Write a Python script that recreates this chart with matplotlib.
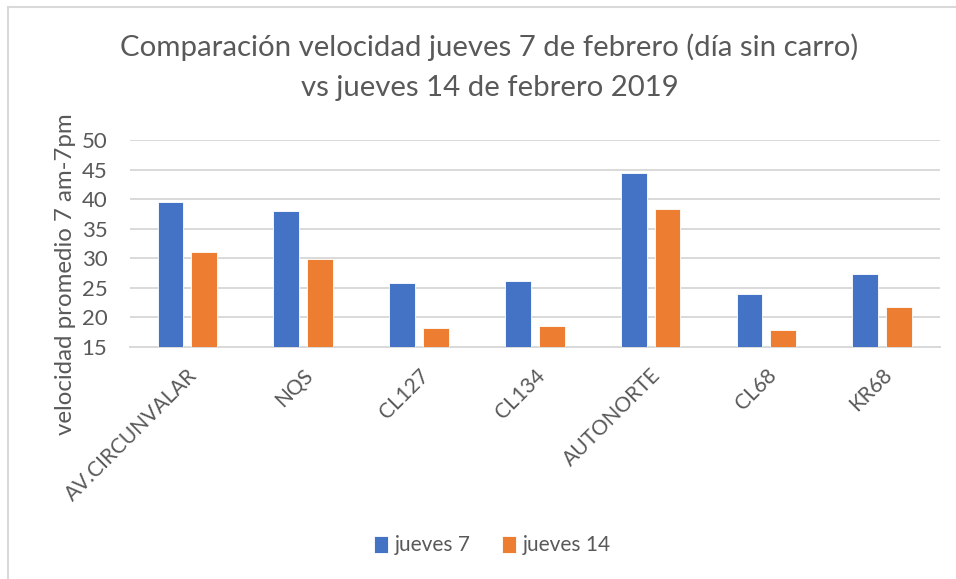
import numpy as np
import matplotlib
matplotlib.use("Agg")
from matplotlib import pyplot as plt
from matplotlib.lines import Line2D

# data
categorias = ["AV.CIRCUNVALAR", "NQS", "CL127", "CL134", "AUTONORTE", "CL68", "KR68"]
jueves7 = [39.6, 38.0, 25.8, 26.2, 44.5, 23.9, 27.3]
jueves14 = [31.0, 29.9, 18.2, 18.6, 38.4, 17.9, 21.7]
series = ["jueves 7", "jueves 14"]
yticks = [15, 20, 25, 30, 35, 40, 45, 50]

plt.rcParams['font.family'] = ['Lato', 'DejaVu Sans']
gris = "#595959"

fig = plt.figure(figsize=(9.56, 5.79), dpi=100)
ax = fig.add_axes([0.1355, 0.4007, 0.8478, 0.3575])

x = np.arange(len(categorias))
w = 0.222
off = 0.146
ax.bar(x - off, jueves7, w, bottom=0, color="#4472C4", edgecolor="white",
       linewidth=0.6, label=series[0], zorder=3)
ax.bar(x + off, jueves14, w, bottom=0, color="#ED7D31", edgecolor="white",
       linewidth=0.6, label=series[1], zorder=3)

ax.set_ylim(15, 50)
ax.set_xlim(-0.5, len(categorias) - 0.5)
ax.set_yticks(yticks)
ax.yaxis.grid(True, color="#D9D9D9", linewidth=1.4, zorder=0)
ax.set_axisbelow(True)
for s in ["top", "right", "left"]:
    ax.spines[s].set_visible(False)
ax.spines["bottom"].set_color("#D9D9D9")
ax.spines["bottom"].set_linewidth(1.4)
ax.tick_params(axis="both", length=0, colors=gris, labelsize=16)
ax.tick_params(axis="y", pad=16)
ax.set_xticks(x)
ax.set_xticklabels(categorias, rotation=45, ha="right", rotation_mode="anchor",
                   fontsize=15, color=gris)
ax.tick_params(axis="x", pad=13)
ax.set_ylabel("velocidad promedio 7 am-7pm", fontsize=17.3, color=gris)
ax.yaxis.set_label_coords(-0.066, 0.353)

fig.text(0.512, 0.918, "Comparación velocidad jueves 7 de febrero (día sin carro)",
         ha="center", va="center", fontsize=21.2, color=gris)
fig.text(0.512, 0.848, "vs jueves 14 de febrero 2019",
         ha="center", va="center", fontsize=21.2, color=gris)

fig.legend(loc="center", bbox_to_anchor=(0.515, 0.058), ncol=2, frameon=False,
           fontsize=15, handlelength=0.7, handleheight=0.9, handletextpad=0.3,
           columnspacing=1.5, labelcolor=gris)

# chart border (only top and left are visible in the picture)
fig.add_artist(Line2D([0.0085, 1.0], [0.988, 0.988], transform=fig.transFigure,
                      color="#D9D9D9", linewidth=1.5))
fig.add_artist(Line2D([0.0085, 0.0085], [0.0, 0.988], transform=fig.transFigure,
                      color="#D9D9D9", linewidth=1.5))

fig.savefig("out.png", dpi=100)
